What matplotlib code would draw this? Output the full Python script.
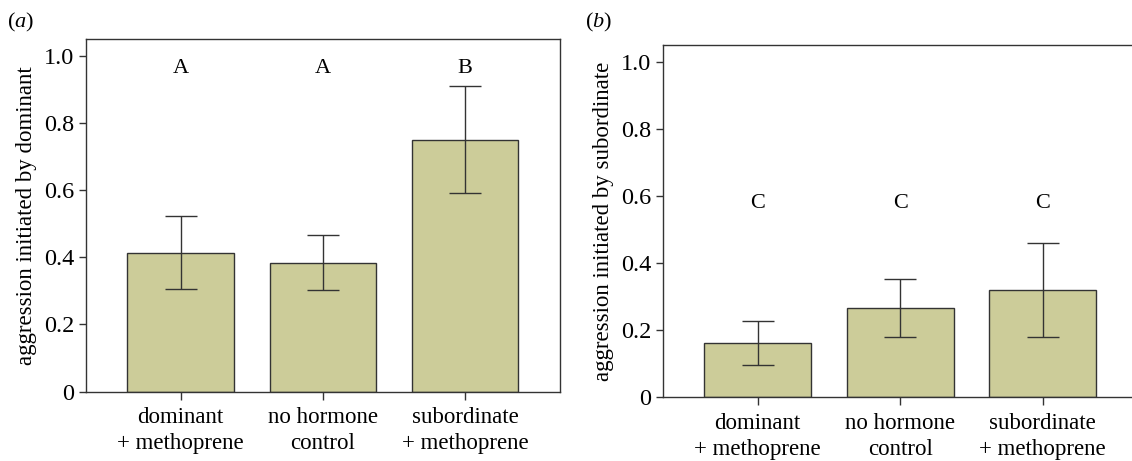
import matplotlib
matplotlib.use("Agg")
import matplotlib.pyplot as plt
import numpy as np

plt.rcParams["font.family"] = ["Liberation Serif", "DejaVu Serif"]
plt.rcParams["mathtext.fontset"] = "custom"
plt.rcParams["mathtext.rm"] = "Liberation Serif"
plt.rcParams["mathtext.it"] = "Liberation Serif:italic"

categories = ["dominant\n+ methoprene", "no hormone\ncontrol", "subordinate\n+ methoprene"]

# panel (a): aggression initiated by dominant
dom_mean = [0.414, 0.384, 0.749]
dom_low = [0.306, 0.303, 0.590]
dom_high = [0.522, 0.466, 0.910]
dom_letters = ["A", "A", "B"]

# panel (b): aggression initiated by subordinate
sub_mean = [0.161, 0.266, 0.319]
sub_low = [0.096, 0.181, 0.179]
sub_high = [0.226, 0.352, 0.461]
sub_letters = ["C", "C", "C"]

BAR_COLOR = "#cccc99"
EDGE = "#333333"

W, H = 1132, 461
fig = plt.figure(figsize=(W/100, H/100), dpi=100)


def panel(rect, mean, low, high, letters, letter_y, ylabel, tag, tag_x):
    ax = fig.add_axes(rect)
    x = np.arange(len(mean))
    mean = np.array(mean)
    yerr = [mean-np.array(low), np.array(high)-mean]
    ax.bar(x, mean, width=0.75, color=BAR_COLOR, edgecolor=EDGE, linewidth=1.0, zorder=2)
    ax.errorbar(x, mean, yerr=yerr, fmt="none", ecolor=EDGE, elinewidth=1.0,
                capsize=11.5, capthick=1.0, zorder=3)
    for xi, lt in zip(x, letters):
        ax.text(xi, letter_y, lt, ha="center", va="baseline", fontsize=16)
    ax.set_xlim(-0.667, 2.667)
    ax.set_ylim(0, 1.05)
    ax.set_yticks([0, 0.2, 0.4, 0.6, 0.8, 1.0])
    ax.set_yticklabels(["0", "0.2", "0.4", "0.6", "0.8", "1.0"])
    ax.set_xticks(x)
    ax.set_xticklabels(categories, linespacing=1.35)
    ax.tick_params(axis="y", direction="out", length=5, width=1, color=EDGE, labelsize=17.5, pad=3)
    ax.tick_params(axis="x", direction="out", length=6, width=1, color=EDGE, labelsize=16.5, pad=5)
    for s in ax.spines.values():
        s.set_color(EDGE)
        s.set_linewidth(1.0)
    ax.set_ylabel(ylabel, fontsize=16.5, labelpad=5)
    fig.text(tag_x, 1-22/H, r"$(\mathit{" + tag + r"})$", fontsize=16, va="center", ha="left")
    return ax


panel([85.7/W, 1-391.5/H, (560-85.7)/W, (391.5-39)/H], dom_mean, dom_low, dom_high,
      dom_letters, 0.948, "aggression initiated by dominant", "a", 7/W)
panel([662.7/W, 1-397.3/H, (1137.6-662.7)/W, (397.3-45)/H], sub_mean, sub_low, sub_high,
      sub_letters, 0.564, "aggression initiated by subordinate", "b", 585/W)

fig.savefig("out.png", dpi=100)
